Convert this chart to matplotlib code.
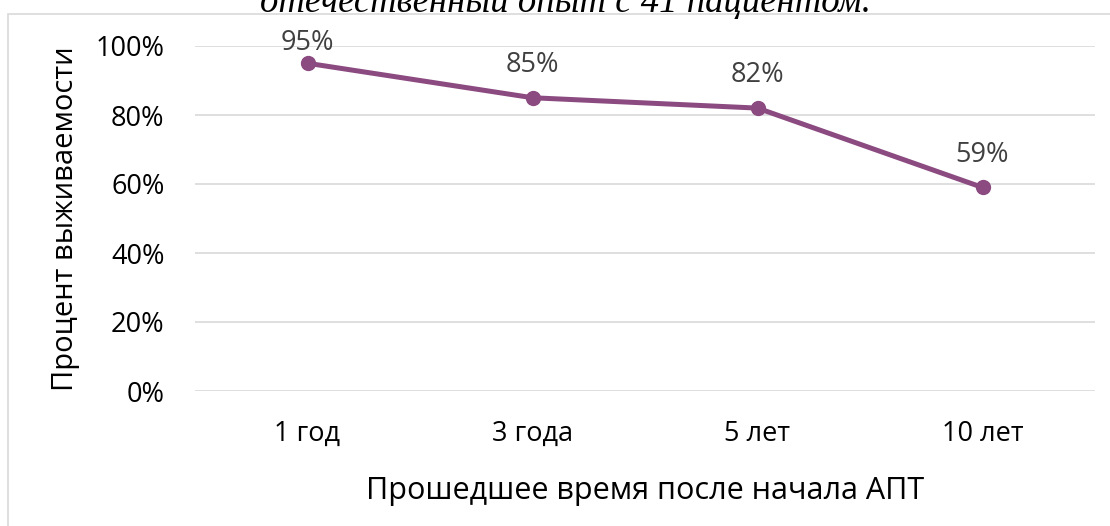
import matplotlib.pyplot as plt
from matplotlib.patches import Rectangle
from matplotlib.ticker import FuncFormatter

# survival data
categories = ["1 год", "3 года", "5 лет", "10 лет"]
survival = [95, 85, 82, 59]
y_ticks = [0, 20, 40, 60, 80, 100]

plt.rcParams['font.family'] = ['Open Sans', 'DejaVu Sans']

fig = plt.figure(figsize=(11.10, 5.26), dpi=100)
W, H = 1110, 526

# chart frame (runs off right and bottom edges)
fig.patches.append(Rectangle((8 / W, -0.1), 1.2, 1 - 14 / H + 0.1,
                             transform=fig.transFigure, fill=False,
                             edgecolor="#d9d9d9", linewidth=1.2))

# clipped caption text above the chart
fig.text(565 / W, 1 - 12 / H, "отечественный опыт с 41 пациентом.",
         family="Liberation Serif", style="italic", fontsize=26.5,
         ha="center", va="baseline", color="black")

ax = fig.add_axes([195 / W, 1 - 391 / H, 900 / W, (391 - 46) / H])

x = list(range(len(categories)))
line_color = "#8b4a80"
ax.plot(x, survival, color=line_color, linewidth=3.6, marker="o",
        markersize=10, solid_capstyle="round")

# labels above points, kept inside the chart area like Excel does
label_ceiling = 91.5
for xi, v in zip(x, survival):
    ax.annotate(f"{v}%", (xi, min(v, label_ceiling)), xytext=(0, 18.5),
                textcoords="offset points", ha="center", va="baseline",
                fontsize=19.5, color="#404040")

ax.set_xlim(-0.5, len(categories) - 0.5)
ax.set_ylim(0, 100)
ax.set_yticks(y_ticks)
ax.yaxis.set_major_formatter(FuncFormatter(lambda v, p: f"{v:.0f}%"))
ax.set_xticks(x)
ax.set_xticklabels(categories)

ax.grid(axis="y", color="#d9d9d9", linewidth=1.2)
ax.set_axisbelow(True)
for s in ax.spines.values():
    s.set_visible(False)
ax.tick_params(axis="both", length=0, labelsize=19.5, colors="black")
ax.tick_params(axis="y", pad=22)
ax.tick_params(axis="x", pad=21)

ax.set_xlabel("Прошедшее время после начала АПТ", fontsize=22, labelpad=20)
ax.set_ylabel("Процент выживаемости", fontsize=21, labelpad=11)

fig.savefig("out.png", dpi=100)
